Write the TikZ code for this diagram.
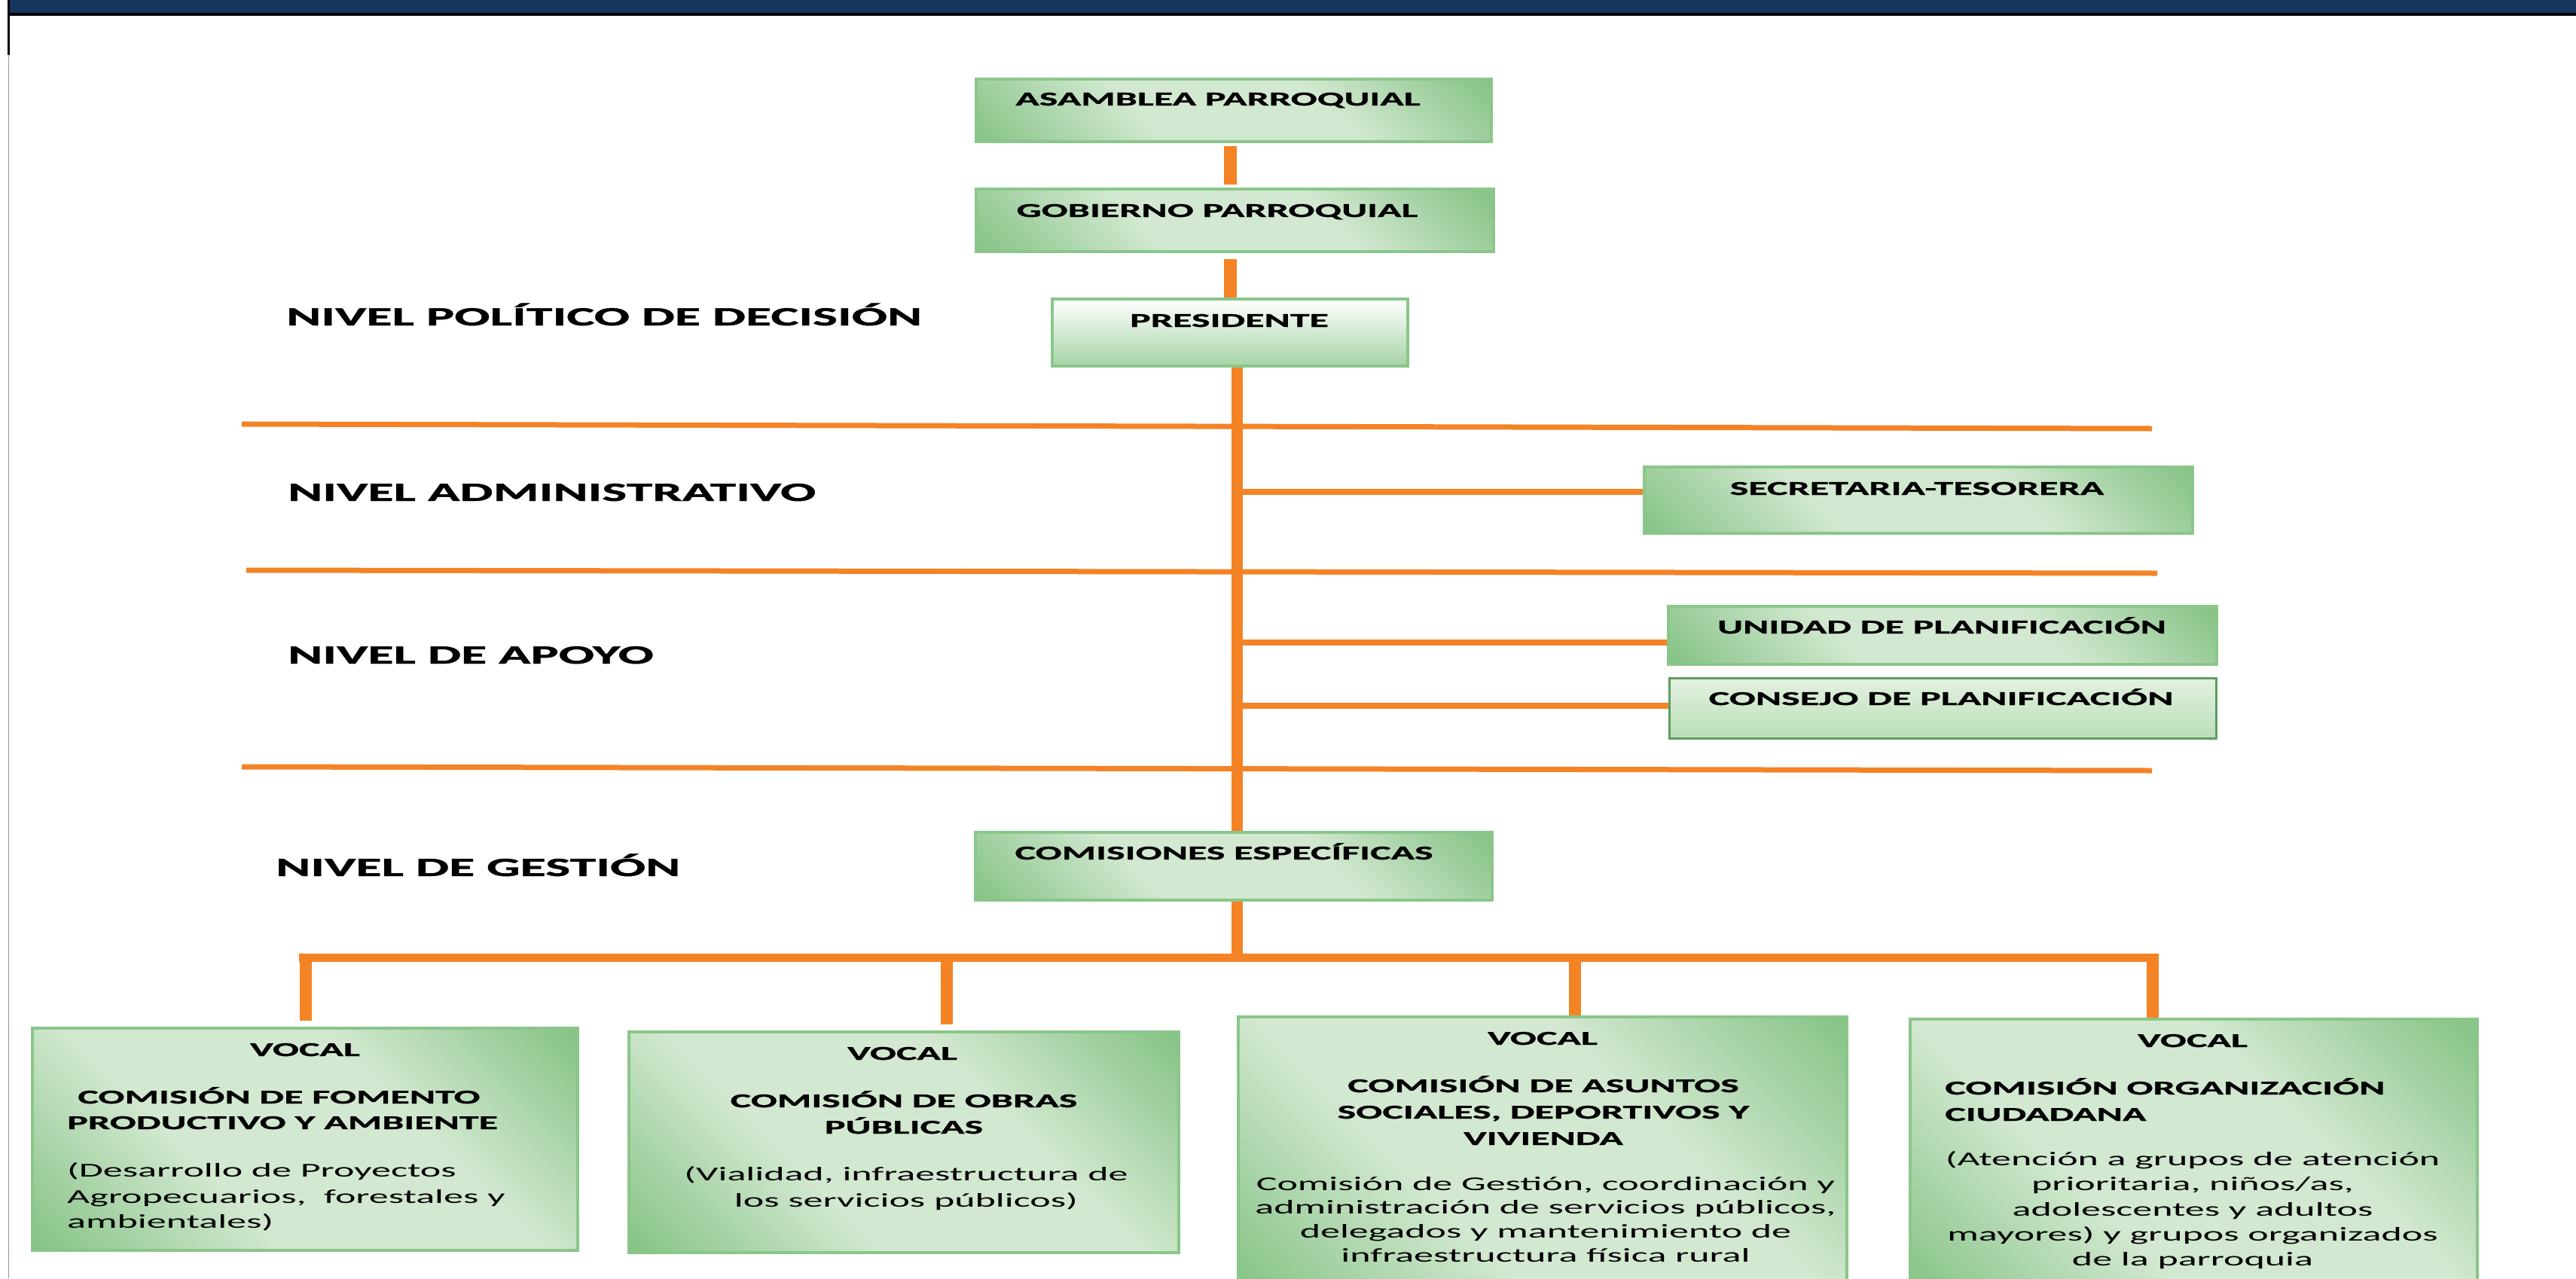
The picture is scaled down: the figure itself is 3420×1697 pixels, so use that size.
\documentclass[tikz,border=0pt]{standalone}
\usepackage{fontspec}
\setmainfont{Carlito}[FakeStretch=2.0, BoldFeatures={FakeBold=1.2}]
\definecolor{orng}{RGB}{244,131,38}
\definecolor{navy}{RGB}{23,54,94}
\definecolor{gdark}{RGB}{134,195,134}
\definecolor{glight}{RGB}{210,232,208}
\definecolor{gborder}{RGB}{138,198,138}
\definecolor{pbot}{RGB}{166,211,165}
\definecolor{ctop}{RGB}{227,241,224}
\definecolor{cbot}{RGB}{185,222,183}
\definecolor{cborder}{RGB}{96,156,96}
\definecolor{edgegray}{RGB}{150,150,150}
\pgfdeclarehorizontalshading{gband}{100bp}{color(0bp)=(gdark); color(15bp)=(gdark); color(38bp)=(glight); color(62bp)=(glight); color(85bp)=(gdark); color(100bp)=(gdark)}
\tikzset{
  gbox/.style={draw=gborder, line width=4pt, shade, shading=gband, shading angle=45, inner sep=0pt},
  presbox/.style={draw=gborder, line width=4pt, top color=white, bottom color=pbot, inner sep=0pt},
  consbox/.style={draw=cborder, line width=3pt, top color=ctop, bottom color=cbot, inner sep=0pt},
  lvl/.style={font=\fontsize{35}{42}\selectfont\bfseries, anchor=base west, inner sep=0pt},
  btxt/.style={font=\fontsize{26}{32}\selectfont\bfseries, anchor=base, inner sep=0pt},
  btxtl/.style={btxt, anchor=base west},
  dtxt/.style={font=\fontsize{26}{32}\selectfont, anchor=base, inner sep=0pt},
  dtxtl/.style={dtxt, anchor=base west},
  lvline/.style={draw=orng, line width=7pt},
  conn/.style={draw=orng, line width=17pt},
  trunkline/.style={draw=orng, line width=15pt},
  branch/.style={draw=orng, line width=8pt},
  busline/.style={draw=orng, line width=11pt},
  dropline/.style={draw=orng, line width=16pt},
}
\begin{document}
\begin{tikzpicture}[x=1pt,y=-1pt]
\useasboundingbox (0,0) rectangle (3420,1697);
\begin{scope}
\clip (0,0) rectangle (3420,1697);
% title bar and page edge
\fill[navy] (13,0) rectangle (3420,17);
\fill[black] (13,17) rectangle (3420,21);
\fill[black] (10,0) rectangle (13,73);
\draw[edgegray, line width=1.2pt] (11.5,73) -- (11.5,1697);
% level separators
\draw[lvline] (321,563) -- (2857,569);
\draw[lvline] (327,757) -- (2864,761);
\draw[lvline] (321,1018) -- (2857,1023);
% trunk and bus
\coordinate (ttop) at (1642,486);
\coordinate (tbot) at (1642,1271);
\draw[trunkline] (ttop) -- (tbot);
\coordinate (bl) at (397,1271);
\coordinate (br) at (2866,1271);
\draw[busline] (bl) -- (br);
\coordinate (d1) at (406,1266);
\coordinate (d2) at (1257,1266);
\coordinate (d3) at (2091,1266);
\coordinate (d4) at (2858,1266);
% boxes
\node[gbox, minimum width=684pt, minimum height=83pt] (asm) at (1638,146.5) {};
\node[gbox, minimum width=687pt, minimum height=83pt] (gob) at (1639.5,292.5) {};
\node[presbox, minimum width=472pt, minimum height=89pt] (pres) at (1633,441.5) {};
\node[gbox, minimum width=728pt, minimum height=88pt] (sec) at (2547,664) {};
\node[gbox, minimum width=728pt, minimum height=77pt] (uni) at (2579,843.5) {};
\node[consbox, minimum width=726pt, minimum height=80pt] (con) at (2579,940) {};
\node[gbox, minimum width=686pt, minimum height=90pt] (com) at (1638,1150) {};
\node[gbox, minimum width=724pt, minimum height=295pt] (v1) at (405,1512.5) {};
\node[gbox, minimum width=730pt, minimum height=293pt] (v2) at (1200,1516.5) {};
\node[gbox, minimum width=808pt, minimum height=370pt] (v3) at (2048,1535) {};
\node[gbox, minimum width=753pt, minimum height=367pt] (v4) at (2912.5,1536.5) {};
% connectors
\draw[conn, shorten <=4pt, shorten >=4pt] (asm.south -| pres.north) -- (gob.north -| pres.north);
\draw[conn, shorten <=8pt] (gob.south -| pres.north) -- (pres.north);
\coordinate (b1) at (1642,653);
\coordinate (b2) at (1642,853);
\coordinate (b3) at (1642,937);
\draw[branch] (b1) -- (b1 -| sec.west);
\draw[branch] (b2) -- (b2 -| uni.west);
\draw[branch] (b3) -- (b3 -| con.west);
\draw[dropline, shorten >=8pt] (d1) -- (d1 |- v1.north);
\draw[dropline, shorten >=8pt] (d2) -- (d2 |- v2.north);
\draw[dropline] (d3) -- (d3 |- v3.north);
\draw[dropline] (d4) -- (d4 |- v4.north);
% level labels
\node[lvl] (l1) at (380,432) {NIVEL POLÍTICO DE DECISIÓN};
\node[lvl] (l2) at (382,665) {NIVEL ADMINISTRATIVO};
\node[lvl] (l3) at (382,881) {NIVEL DE APOYO};
\node[lvl] (l4) at (366,1163) {NIVEL DE GESTIÓN};
% box titles
\node[btxt] (tasm) at (1617,140) {ASAMBLEA PARROQUIAL};
\node[btxt] (tgob) at (1616,288) {GOBIERNO PARROQUIAL};
\node[btxt] (tpres) at (1632,434) {PRESIDENTE};
\node[btxt] (tsec) at (2545,657) {SECRETARIA-TESORERA};
\node[btxt] (tuni) at (2578,841) {UNIDAD DE PLANIFICACIÓN};
\node[btxt] (tcon) at (2577,936) {CONSEJO DE PLANIFICACIÓN};
\node[btxt] (tcom) at (1625,1141) {COMISIONES ESPECÍFICAS};
% box 1
\node[btxt] (v1a) at (405,1402) {VOCAL};
\node[btxtl] (v1b) at (103,1465) {COMISIÓN DE FOMENTO};
\node[btxtl] (v1c) at (89,1499) {PRODUCTIVO Y AMBIENTE};
\node[dtxtl] (v1d) at (89,1562) {(Desarrollo de Proyectos};
\node[dtxtl] (v1e) at (89,1597) {Agropecuarios,\ \ forestales y};
\node[dtxtl] (v1f) at (89,1630) {ambientales)};
% box 2
\node[btxt] (v2a) at (1198,1407) {VOCAL};
\node[btxt] (v2b) at (1200,1470) {COMISIÓN DE OBRAS};
\node[btxt] (v2c) at (1200,1505) {PÚBLICAS};
\node[dtxt] (v2d) at (1203,1567) {(Vialidad, infraestructura de};
\node[dtxt] (v2e) at (1203,1602) {los servicios públicos)};
% box 3
\node[btxt] (v3a) at (2048,1387) {VOCAL};
\node[btxt] (v3b) at (2049,1450) {COMISIÓN DE ASUNTOS};
\node[btxt] (v3c) at (2049,1485) {SOCIALES, DEPORTIVOS Y};
\node[btxt] (v3d) at (2049,1520) {VIVIENDA};
\node[dtxt] (v3e) at (2052,1580) {Comisión de Gestión, coordinación y};
\node[dtxt] (v3f) at (2052,1611) {administración de servicios públicos,};
\node[dtxt] (v3g) at (2052,1643) {delegados y mantenimiento de};
\node[dtxt] (v3h) at (2052,1675) {infraestructura física rural};
% box 4
\node[btxt] (v4a) at (2911,1390) {VOCAL};
\node[btxtl] (v4b) at (2582,1453) {COMISIÓN ORGANIZACIÓN};
\node[btxtl] (v4c) at (2582,1488) {CIUDADANA};
\node[dtxt] (v4d) at (2911,1547) {(Atención a grupos de atención};
\node[dtxt] (v4e) at (2911,1580) {prioritaria, niños/as,};
\node[dtxt] (v4f) at (2911,1614) {adolescentes y adultos};
\node[dtxt] (v4g) at (2911,1647) {mayores) y grupos organizados};
\node[dtxt] (v4h) at (2911,1680) {de la parroquia};
\end{scope}
\end{tikzpicture}
\end{document}
